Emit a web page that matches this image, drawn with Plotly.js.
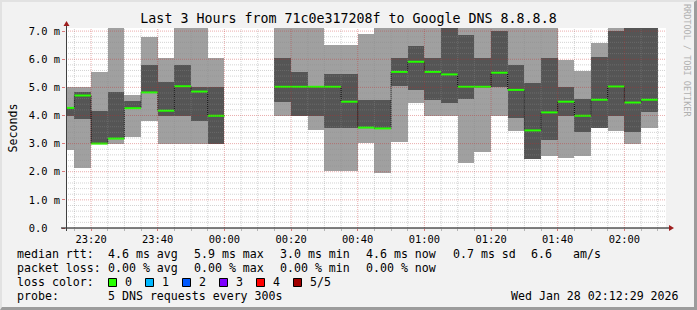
<!DOCTYPE html>
<html>
<head>
<meta charset="utf-8">
<script src="https://cdn.plot.ly/plotly-3.0.1.min.js"></script>
<style>
html,body{margin:0;padding:0;background:#f2f2f2;}
#wrap{position:relative;width:697px;height:310px;overflow:hidden;}
#chart{position:absolute;left:0;top:0;width:697px;height:310px;}
#frame{position:absolute;left:0;top:0;width:697px;height:310px;box-sizing:border-box;
  border-top:2px solid #e2e2e2;border-left:2px solid #e2e2e2;
  border-right:3px solid #9c9c9c;border-bottom:3px solid #9c9c9c;pointer-events:none;}
</style>
</head>
<body>
<div id="wrap"><div id="chart"></div><div id="frame"></div></div>
<script>
// ---- data (values in ms) ----
const endTimes = [
  '2026-01-27 23:15:00','2026-01-27 23:20:00','2026-01-27 23:25:00','2026-01-27 23:30:00',
  '2026-01-27 23:35:00','2026-01-27 23:40:00','2026-01-27 23:45:00','2026-01-27 23:50:00',
  '2026-01-27 23:55:00','2026-01-28 00:00:00','2026-01-28 00:05:00','2026-01-28 00:10:00',
  '2026-01-28 00:15:00','2026-01-28 00:20:00','2026-01-28 00:25:00','2026-01-28 00:30:00',
  '2026-01-28 00:35:00','2026-01-28 00:40:00','2026-01-28 00:45:00','2026-01-28 00:50:00',
  '2026-01-28 00:55:00','2026-01-28 01:00:00','2026-01-28 01:05:00','2026-01-28 01:10:00',
  '2026-01-28 01:15:00','2026-01-28 01:20:00','2026-01-28 01:25:00','2026-01-28 01:30:00',
  '2026-01-28 01:35:00','2026-01-28 01:40:00','2026-01-28 01:45:00','2026-01-28 01:50:00',
  '2026-01-28 01:55:00','2026-01-28 02:00:00','2026-01-28 02:05:00','2026-01-28 02:10:00'
];
const pingMin = [2.77,2.15,2.98,3.00,3.25,3.81,3.00,3.00,3.00,3.00,null,null,null,3.99,3.99,3.50,2.04,2.04,3.02,1.94,3.07,4.45,3.99,3.99,2.30,2.71,3.99,3.46,2.47,2.57,2.50,2.57,3.54,3.46,3.00,3.56];
const ping2   = [3.99,3.86,3.00,3.15,4.24,4.80,3.99,3.99,3.81,3.00,null,null,null,4.49,3.99,3.99,3.54,3.54,3.55,3.52,5.05,4.92,4.55,4.45,4.60,5.00,5.02,3.92,2.47,3.13,3.99,3.42,3.54,3.99,3.42,4.11];
const median  = [4.27,4.71,3.00,3.18,4.26,4.82,4.17,5.04,4.85,3.99,null,null,null,5.02,5.02,5.02,5.02,4.49,3.57,3.54,5.55,5.91,5.55,5.46,5.02,5.02,5.52,4.91,3.47,4.11,4.49,3.99,4.56,5.03,4.46,4.56];
const ping4   = [4.30,4.84,4.17,4.84,4.50,5.79,5.20,5.79,5.02,5.02,null,null,null,6.03,5.53,5.04,5.49,5.49,4.55,4.55,6.05,6.48,6.03,7.30,6.85,6.03,7.02,5.81,5.14,6.03,5.00,4.60,6.09,7.02,7.30,7.30];
const pingMax = [5.02,5.02,5.53,7.50,4.74,6.80,6.03,7.50,7.50,6.03,null,null,null,7.50,7.50,7.50,6.52,6.52,6.91,7.50,7.50,7.50,7.50,7.50,7.50,7.50,7.50,7.50,7.50,7.50,5.99,5.59,6.56,7.50,7.50,7.50];

const rangeStart = '2026-01-27 23:12:29';
const rangeEnd   = '2026-01-28 02:12:29';
const stepMinutes = 5;
const yTickVals = [0,1,2,3,4,5,6,7];
const yTickText = ['0.0\u00a0\u00a0','1.0 m','2.0 m','3.0 m','4.0 m','5.0 m','6.0 m','7.0 m'];

const titleText = 'Last 3 Hours from 71c0e317208f to Google DNS 8.8.8.8';
const rttLabels  = ['median rtt:','4.6 ms avg','5.9 ms max','3.0 ms min','4.6 ms now','0.7 ms sd','6.6','am/s'];
const lossLabels = ['packet loss:','0.00 % avg','0.00 % max','0.00 % min','0.00 % now'];
const lossColorNames  = ['0','1','2','3','4','5/5'];
const lossColorValues = ['#26ff00','#00b8ff','#0059ff','#7e00ff','#ff0000','#a10000'];
const probeLabels = ['probe:','5 DNS requests every 300s'];
const stampText = 'Wed Jan 28 02:12:29 2026';

// ---- helpers ----
const toMs = s => Date.parse(s.replace(' ','T') + 'Z');
const STEP = stepMinutes*60000;
const ends = endTimes.map(toMs);
const starts = ends.map(e => e - STEP);
const centers = ends.map(e => e - STEP/2);

const ML = 66, MR = 31, MT = 28, MB = 82, W = 697, H = 310;
const PW = W-ML-MR, PH = H-MT-MB;
const px = x => (x-ML)/PW;
const py = y => (MT+PH-y)/PH;

// ---- traces ----
const lightBar = {
  type:'bar', x:centers, base:pingMin,
  y:pingMax.map((v,i)=> v==null?null:v-pingMin[i]),
  width:ends.map(()=>STEP), marker:{color:'#a0a0a0', opacity:1, line:{width:0}},
  hoverinfo:'skip'
};
const darkBar = {
  type:'bar', x:centers, base:ping2,
  y:ping4.map((v,i)=> v==null?null:v-ping2[i]),
  width:ends.map(()=>STEP), marker:{color:'#555555', opacity:1, line:{width:0}},
  hoverinfo:'skip'
};
const stepX=[], stepY=[], segX=[], segY=[];
median.forEach((m,i)=>{
  if(m==null){ stepX.push(null); stepY.push(null); return; }
  stepX.push(starts[i], ends[i]); stepY.push(m, m);
  segX.push(starts[i], ends[i], null); segY.push(m, m, null);
});
const stepLine = {type:'scatter', mode:'lines', x:stepX, y:stepY, connectgaps:false,
  line:{color:'#000000', width:1, dash:'1px,1px'}, hoverinfo:'skip'};
const medLine = {type:'scatter', mode:'lines', x:segX, y:segY, connectgaps:false,
  line:{color:'#26ff00', width:2}, hoverinfo:'skip'};

// ---- grid (drawn over the data, like rrdtool) ----
const shapes = [];
const minorCol = 'rgba(140,140,140,0.38)', majorCol = 'rgba(200,40,40,0.38)';
const t0 = toMs(rangeStart), t1 = toMs(rangeEnd);
for(let t = Math.ceil(t0/STEP)*STEP; t <= t1; t += STEP){
  const major = (t % (20*60000)) === 0;
  shapes.push({type:'line', layer:'above', xref:'x', yref:'paper', x0:t, x1:t, y0:0, y1:1,
    line:{color: major?majorCol:minorCol, width:1, dash:'1px,1px'}});
}
for(let k=1;k<=35;k++){
  const v = k*0.2, major = (k%5===0);
  shapes.push({type:'line', layer:'above', xref:'paper', yref:'y', x0:0, x1:1, y0:v, y1:v,
    line:{color: major?majorCol:minorCol, width:1, dash:'1px,1px'}});
}
// axes lines and arrows
shapes.push({type:'line', xref:'paper', yref:'paper', x0:px(61), x1:px(670), y0:0, y1:0, line:{color:'#000', width:1}});
shapes.push({type:'line', xref:'paper', yref:'paper', x0:px(66.5), x1:px(66.5), y0:py(231), y1:py(25), line:{color:'#404040', width:1}});
shapes.push({type:'path', xref:'paper', yref:'paper', xsizemode:'pixel', ysizemode:'pixel',
  xanchor:px(669), yanchor:py(228), path:'M0,3 L5,0 L0,-3 Z', fillcolor:'#9e1e1e', line:{width:0}});
shapes.push({type:'path', xref:'paper', yref:'paper', xsizemode:'pixel', ysizemode:'pixel',
  xanchor:px(66.5), yanchor:py(26), path:'M-3,0 L3,0 L0,5 Z', fillcolor:'#9e1e1e', line:{width:0}});

// ---- legend text ----
const F = {family:'DejaVu Sans Mono', size:11.6, color:'#000'};
const ann = [];
const addText = (x,y,text,anchor) => ann.push({xref:'paper', yref:'paper', x:px(x), y:py(y), text:text,
  showarrow:false, xanchor:anchor||'left', yanchor:'middle', borderpad:0, font:F});
const rttX = [16,107.3,193.3,279.3,365,451.7,530,571.7];
rttLabels.forEach((t,i)=>addText(rttX[i],254,t));
lossLabels.forEach((t,i)=>addText(rttX[i],268,t));
addText(16,282,'loss color:');
const sqX = [108.5,145.5,182.5,219.5,256.5,293.5];
lossColorNames.forEach((n,i)=>{
  shapes.push({type:'rect', xref:'paper', yref:'paper', x0:px(sqX[i]), x1:px(sqX[i]+8), y0:py(286.5), y1:py(278.5),
    fillcolor:lossColorValues[i], line:{color:'#000', width:1}});
  addText(sqX[i]+15, 282, n);
});
addText(16,296,probeLabels[0]);
addText(107.3,296,probeLabels[1]);
addText(680,296,stampText,'right');
ann.push({xref:'paper', yref:'paper', x:px(687), y:py(60), text:'RRDTOOL / TOBI OETIKER', textangle:90,
  showarrow:false, xanchor:'center', yanchor:'middle', borderpad:0,
  font:{family:'DejaVu Sans Mono', size:8.5, color:'#b0b0b0'}});

const layout = {
  width:W, height:H, margin:{l:ML, r:MR, t:MT, b:MB, pad:0},
  paper_bgcolor:'#f2f2f2', plot_bgcolor:'#ffffff',
  showlegend:false, barmode:'overlay', bargap:0,
  font:{family:'DejaVu Sans Mono', size:10.4, color:'#000'},
  title:{text:titleText, font:{family:'DejaVu Sans Mono', size:13.3, color:'#000'},
    x:0.5, xref:'container', xanchor:'center', y:1-18/H, yref:'container', yanchor:'middle'},
  xaxis:{type:'date', range:[t0,t1], tick0:toMs('2026-01-28 00:00:00'), dtick:20*60000,
    tickformat:'%H:%M', showgrid:false, zeroline:false, showline:false,
    ticks:'outside', ticklen:2, tickcolor:'rgba(200,40,40,0.6)', tickfont:{size:10.4},
    minor:{ticks:'outside', ticklen:2, dtick:STEP, tick0:toMs('2026-01-28 00:00:00'), tickcolor:'rgba(140,140,140,0.6)', showgrid:false},
    fixedrange:true, automargin:false},
  yaxis:{range:[0,7.11], tickvals:yTickVals, ticktext:yTickText, showgrid:false, zeroline:false, showline:false,
    ticks:'outside', ticklen:3, tickcolor:'rgba(200,40,40,0.6)', tickfont:{size:10.4},
    title:{text:'Seconds', font:{family:'DejaVu Sans Mono', size:11.6, color:'#000'}, standoff:8},
    fixedrange:true, automargin:false},
  shapes:shapes, annotations:ann
};
Plotly.newPlot('chart', [lightBar, darkBar, stepLine, medLine], layout, {displayModeBar:false, staticPlot:true});
</script>
</body>
</html>
